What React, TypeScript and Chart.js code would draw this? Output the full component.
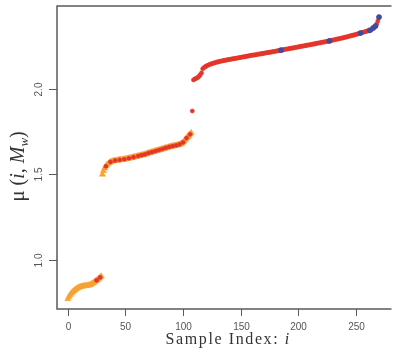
import React, { useEffect, useRef } from "react";
import { Chart, registerables } from "chart.js";
Chart.register(...registerables);

// Sample index i runs 0.. in order over these blocks
const seg1 = [
  0.772, 0.785, 0.796, 0.805, 0.812, 0.818, 0.824, 0.829, 0.834, 0.838,
  0.841, 0.843, 0.845, 0.847, 0.848, 0.849, 0.85, 0.851, 0.852, 0.854,
  0.857, 0.861, 0.866, 0.871, 0.876, 0.881, 0.886, 0.892, 0.898, 0.905,
];
const seg2 = [
  1.5, 1.521, 1.536, 1.548, 1.557, 1.564, 1.569, 1.573, 1.576, 1.578,
  1.58, 1.581, 1.582, 1.583, 1.584, 1.585, 1.586, 1.587, 1.588, 1.589,
  1.59, 1.592, 1.593, 1.595, 1.596, 1.598, 1.599, 1.601, 1.603, 1.604,
  1.606, 1.608, 1.609, 1.611, 1.613, 1.614, 1.616, 1.618, 1.62, 1.623,
  1.625, 1.627, 1.629, 1.631, 1.633, 1.635, 1.637, 1.639, 1.641, 1.643,
  1.645, 1.647, 1.649, 1.651, 1.653, 1.655, 1.657, 1.659, 1.661, 1.663,
  1.664, 1.666, 1.667, 1.669, 1.67, 1.672, 1.674, 1.676, 1.678, 1.682,
  1.688, 1.696, 1.705, 1.713, 1.72, 1.727, 1.735, 1.743,
];
const outlier = [1.871];
const seg3 = [
  2.053, 2.057, 2.061, 2.064, 2.068, 2.075, 2.084, 2.094, 2.118, 2.124,
  2.129, 2.133, 2.137, 2.14, 2.143, 2.145, 2.148, 2.15, 2.152, 2.154,
  2.156, 2.158, 2.16, 2.161, 2.163, 2.164, 2.166, 2.167, 2.168, 2.17,
  2.171, 2.172, 2.173, 2.175, 2.176, 2.177, 2.178, 2.179, 2.181, 2.182,
  2.183, 2.184, 2.186, 2.187, 2.188, 2.189, 2.191, 2.192, 2.193, 2.195,
  2.196, 2.197, 2.198, 2.199, 2.2, 2.201, 2.203, 2.204, 2.205, 2.206,
  2.207, 2.208, 2.21, 2.211, 2.212, 2.213, 2.214, 2.215, 2.217, 2.218,
  2.219, 2.22, 2.222, 2.223, 2.224, 2.226, 2.227, 2.228, 2.229, 2.231,
  2.232, 2.233, 2.234, 2.236, 2.237, 2.238, 2.239, 2.241, 2.242, 2.243,
  2.244, 2.246, 2.247, 2.248, 2.25, 2.251, 2.252, 2.253, 2.255, 2.256,
  2.257, 2.258, 2.26, 2.261, 2.262, 2.264, 2.265, 2.266, 2.268, 2.269,
  2.27, 2.272, 2.273, 2.274, 2.276, 2.277, 2.278, 2.28, 2.281, 2.283,
  2.284, 2.286, 2.287, 2.289, 2.29, 2.292, 2.293, 2.295, 2.296, 2.298,
  2.299, 2.301, 2.303, 2.304, 2.306, 2.308, 2.31, 2.312, 2.313, 2.315,
  2.317, 2.319, 2.321, 2.323, 2.325, 2.327, 2.329, 2.331, 2.333, 2.335,
  2.337, 2.339, 2.341, 2.343, 2.345, 2.35, 2.357, 2.362, 2.368, 2.38,
  2.398, 2.42,
];
// indices in the first two blocks that also carry a red dot
const redMarkedIdx = [
  25, 28, 33, 37, 41, 45, 49, 53, 57, 61, 64, 67, 70, 73, 76, 79, 82, 85,
  88, 91, 94, 97, 100, 103, 106,
];
// indices drawn as blue dots
const blueIdx = [185, 227, 254, 262, 265, 267, 270];

const xTicks = [0, 50, 100, 150, 200, 250];
const yTicks = [1.0, 1.5, 2.0];
const yTickLabels = ["1.0", "1.5", "2.0"];
const xTitle = "Sample Index: ";
const xTitleVar = "i";

const ORANGE = "#F6A234";
const RED = "#E5352B";
const BLUE = "#3D4C9E";
const AXIS = "#5a5a5a";

export default function App() {
  const ref = useRef<HTMLCanvasElement | null>(null);
  useEffect(() => {
    document.body.style.margin = "0";
    const all = [...seg1, ...seg2, ...outlier, ...seg3];
    const nOrange = seg1.length + seg2.length;
    const orange = all.slice(0, nOrange).map((v, i) => ({ x: i, y: v }));
    const redIdx = [
      ...redMarkedIdx,
      ...all.map((_, i) => i).filter((i) => i >= nOrange),
    ];
    const red = redIdx.map((i) => ({ x: i, y: all[i] }));
    const blue = blueIdx.map((i) => ({ x: i, y: all[i] }));

    const axesPlugin = {
      id: "rAxes",
      afterDraw(chart: any) {
        const ctx = chart.ctx as CanvasRenderingContext2D;
        const a = chart.chartArea;
        const xs = chart.scales.x;
        const ys = chart.scales.y;
        ctx.save();
        ctx.strokeStyle = AXIS;
        ctx.lineWidth = 1.5;
        ctx.beginPath();
        ctx.moveTo(a.right + 2, a.top);
        ctx.lineTo(a.left, a.top);
        ctx.lineTo(a.left, a.bottom);
        ctx.lineTo(a.right + 2, a.bottom);
        ctx.stroke();
        ctx.lineWidth = 1;
        ctx.fillStyle = "#555";
        ctx.font = "10px 'Liberation Sans', Arial, sans-serif";
        ctx.textAlign = "center";
        ctx.textBaseline = "middle";
        xTicks.forEach((t) => {
          const px = Math.round(xs.getPixelForValue(t)) + 0.5;
          ctx.beginPath();
          ctx.moveTo(px, a.bottom);
          ctx.lineTo(px, a.bottom + 7);
          ctx.stroke();
          ctx.fillText(String(t), px, a.bottom + 18);
        });
        yTicks.forEach((t, k) => {
          const py = Math.round(ys.getPixelForValue(t)) + 0.5;
          ctx.beginPath();
          ctx.moveTo(a.left, py);
          ctx.lineTo(a.left - 8, py);
          ctx.stroke();
          ctx.save();
          ctx.translate(a.left - 18, py);
          ctx.rotate(-Math.PI / 2);
          ctx.fillText(yTickLabels[k], 0, 0);
          ctx.restore();
        });
        // x title
        ctx.fillStyle = "#333";
        ctx.textBaseline = "alphabetic";
        ctx.textAlign = "left";
        const serif = "'Liberation Serif', 'DejaVu Serif', serif";
        ctx.font = `16px ${serif}`;
        (ctx as any).letterSpacing = "1.6px";
        const w1 = ctx.measureText(xTitle).width;
        ctx.font = `italic 16px ${serif}`;
        const w2 = ctx.measureText(xTitleVar).width;
        const cx = (a.left + a.right) / 2 + 5;
        let sx = cx - (w1 + w2) / 2;
        ctx.font = `16px ${serif}`;
        ctx.fillText(xTitle, sx, 344);
        ctx.font = `italic 16px ${serif}`;
        ctx.fillText(xTitleVar, sx + w1, 344);
        (ctx as any).letterSpacing = "0px";
        // y title: mu (i, M_w)
        const parts = [
          { t: "\u03BC", f: `21px ${serif}`, dy: 0 },
          { t: " (", f: `20px ${serif}`, dy: 0 },
          { t: "i", f: `italic 20px ${serif}`, dy: 0 },
          { t: ", ", f: `20px ${serif}`, dy: 0 },
          { t: "M", f: `italic 20px ${serif}`, dy: 0 },
          { t: "w", f: `italic 13px ${serif}`, dy: 4 },
          { t: ")", f: `20px ${serif}`, dy: 0 },
        ];
        let total = 0;
        const widths = parts.map((p) => {
          ctx.font = p.f;
          const w = ctx.measureText(p.t).width;
          total += w;
          return w;
        });
        ctx.save();
        ctx.translate(17, (a.top + a.bottom) / 2 + 9);
        ctx.rotate(-Math.PI / 2);
        let px = -total / 2;
        parts.forEach((p, k) => {
          ctx.font = p.f;
          ctx.fillText(p.t, px, 7 + p.dy);
          px += widths[k];
        });
        ctx.restore();
        ctx.restore();
      },
    };

    const chart = new Chart(ref.current as HTMLCanvasElement, {
      type: "scatter",
      data: {
        datasets: [
          {
            label: "blue",
            data: blue,
            order: 1,
            pointStyle: "circle",
            pointRadius: 2.6,
            pointBackgroundColor: BLUE,
            pointBorderColor: BLUE,
            pointBorderWidth: 0.5,
          },
          {
            label: "red",
            data: red,
            order: 2,
            pointStyle: "circle",
            pointRadius: 2.1,
            pointBackgroundColor: RED,
            pointBorderColor: RED,
            pointBorderWidth: 0.5,
          },
          {
            label: "orange",
            data: orange,
            order: 3,
            pointStyle: "triangle",
            pointRadius: 3.6,
            pointBackgroundColor: ORANGE,
            pointBorderColor: ORANGE,
            pointBorderWidth: 0.5,
          },
        ],
      },
      options: {
        responsive: false,
        animation: false,
        layout: { padding: { left: 57, top: 6, right: 0, bottom: 46 } },
        plugins: { legend: { display: false }, tooltip: { enabled: false } },
        scales: {
          x: { type: "linear", display: false, min: -9.4, max: 279.1 },
          y: { type: "linear", display: false, min: 0.7135, max: 2.485 },
        },
      },
      plugins: [axesPlugin],
    });
    return () => chart.destroy();
  }, []);
  return (
    <div style={{ width: 394, height: 355 }}>
      <canvas ref={ref} width={394} height={355} />
    </div>
  );
}
